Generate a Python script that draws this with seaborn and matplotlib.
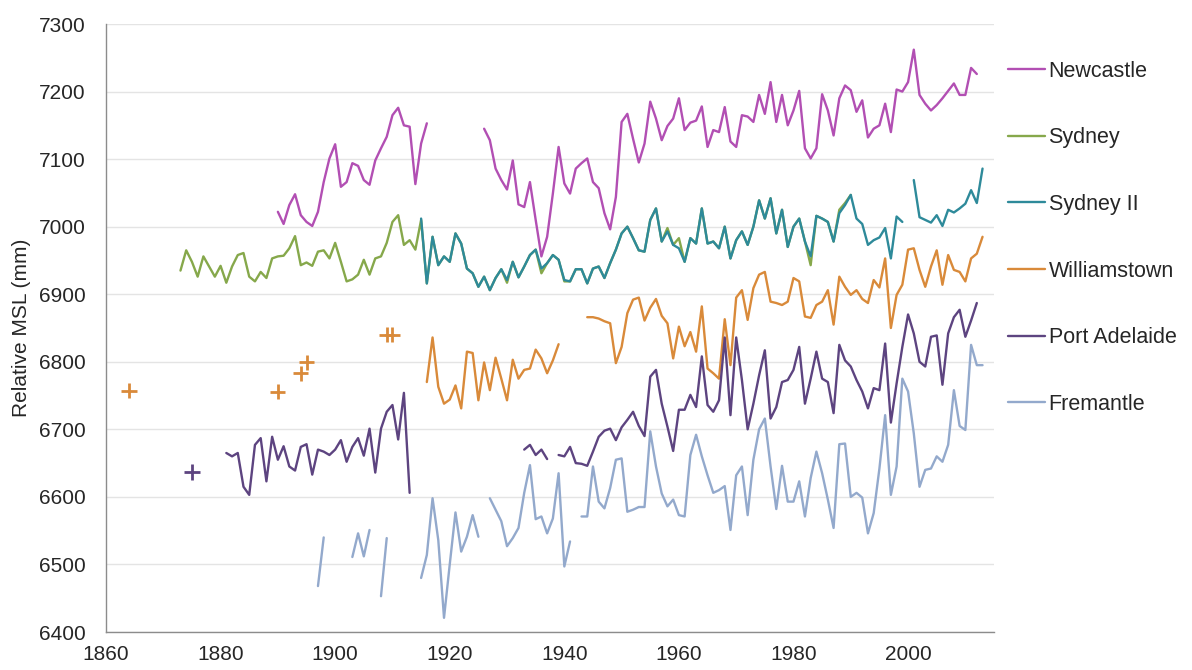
import numpy as np
import pandas as pd
import matplotlib
matplotlib.use("Agg")
import matplotlib.pyplot as plt
from matplotlib.lines import Line2D
import seaborn as sns

nan = np.nan

sites = ["Newcastle", "Sydney", "Sydney II", "Williamstown", "Port Adelaide", "Fremantle"]
colors = ["#B24FB3", "#86A84B", "#2E8A9A", "#D98A3A", "#5D4480", "#93A9CC"]

# Annual mean sea level (mm), one value per year from the start year; NaN = missing year
newcastle_start = 1890
newcastle_mm = [
    7022, 7004, 7032, 7048, 7017, 7007, 7001, 7022, 7066, 7101,
    7122, 7059, 7066, 7094, 7090, 7069, 7062, 7098, 7116, 7133,
    7165, 7176, 7150, 7148, 7063, 7123, 7153, nan, nan, nan,
    nan, nan, nan, nan, nan, nan, 7145, 7128, 7086, 7069,
    7055, 7098, 7033, 7029, 7066, 7010, 6956, 6985, 7049, 7118,
    7064, 7049, 7086, 7094, 7101, 7066, 7057, 7020, 6996, 7044,
    7155, 7167, 7130, 7095, 7123, 7185, 7160, 7128, 7149, 7160,
    7190, 7143, 7154, 7157, 7178, 7118, 7143, 7140, 7177, 7126,
    7118, 7165, 7163, 7155, 7195, 7167, 7214, 7155, 7195, 7150,
    7172, 7201, 7116, 7101, 7116, 7196, 7172, 7135, 7190, 7209,
    7202, 7170, 7187, 7132, 7145, 7150, 7182, 7140, 7203, 7200,
    7214, 7262, 7195, 7182, 7172, 7180, 7190, 7201, 7212, 7195,
    7195, 7235, 7226,
]

sydney_start = 1873
sydney_mm = [
    6935, 6965, 6948, 6926, 6956, 6941, 6926,
    6942, 6917, 6941, 6958, 6961, 6926, 6919, 6933, 6924, 6953,
    6956, 6957, 6968, 6986, 6943, 6947, 6942, 6963, 6965, 6953,
    6976, 6948, 6919, 6922, 6929, 6951, 6929, 6953, 6956, 6976,
    7007, 7017, 6973, 6980, 6966, 7010, 6916, 6985, 6943, 6956,
    6948, 6990, 6975, 6938, 6931, 6911, 6926, 6906, 6924, 6937,
    6917, 6948, 6925, 6941, 6958, 6966, 6931, 6946, 6958, 6951,
    6919, 6919, 6937, 6937, 6916, 6938, 6941, 6924, 6946, 6966,
    6990, 7000, 6983, 6965, 6963, 7010, 7027, 6978, 6998, 6973,
    6983, 6948, 6983, 6975, 7027, 6975, 6978, 6968, 7000, 6953,
    6980, 6993, 6973, 7000, 7039, 7012, 7042, 6990, 7025, 6970,
    7000, 7012, 6978, 6943, 7016, 7012, 7007, 6978, 7025, 7035,
    7047,
]

sydney2_start = 1915
sydney2_mm = [
    7012, 6916, 6985, 6943, 6956,
    6948, 6990, 6975, 6938, 6931, 6911, 6926, 6906, 6924, 6937,
    6921, 6948, 6925, 6941, 6958, 6966, 6938, 6946, 6958, 6951,
    6921, 6919, 6937, 6937, 6916, 6938, 6941, 6924, 6946, 6966,
    6990, 7000, 6983, 6965, 6963, 7010, 7027, 6978, 6993, 6973,
    6968, 6948, 6983, 6975, 7027, 6975, 6978, 6968, 7000, 6953,
    6980, 6993, 6973, 7000, 7039, 7012, 7042, 6990, 7025, 6970,
    7000, 7012, 6978, 6956, 7016, 7012, 7007, 6978, 7020, 7032,
    7047, 7012, 7004, 6973, 6980, 6984, 6998, 6953, 7015, 7007,
    nan, 7069, 7014, 7010, 7006, 7017, 7001, 7025, 7021, 7027,
    7034, 7054, 7035, 7086,
]

williamstown_start = 1916
williamstown_mm = [
    6770, 6836, 6763, 6738,
    6744, 6765, 6731, 6815, 6813, 6743, 6799, 6758, 6806, 6775,
    6743, 6803, 6775, 6788, 6790, 6818, 6805, 6783, 6802, 6826,
    nan, nan, nan, nan, 6866, 6866, 6864, 6860, 6857, 6798,
    6822, 6872, 6892, 6895, 6861, 6880, 6893, 6868, 6857, 6805,
    6852, 6823, 6844, 6815, 6882, 6790, 6783, 6775, 6863, 6795,
    6895, 6906, 6862, 6909, 6929, 6933, 6889, 6887, 6884, 6889,
    6924, 6919, 6867, 6865, 6884, 6889, 6906, 6855, 6926, 6911,
    6899, 6906, 6893, 6887, 6921, 6910, 6953, 6850, 6899, 6914,
    6966, 6968, 6936, 6911, 6941, 6965, 6914, 6958, 6936, 6933,
    6919, 6953, 6960, 6985,
]
# Isolated early Williamstown readings
williamstown_early_years = [1864, 1890, 1894, 1895, 1909, 1910]
williamstown_early_mm = [6757, 6756, 6783, 6799, 6840, 6840]

port_adelaide_start = 1881
port_adelaide_mm = [
    6665, 6660, 6665, 6615, 6603, 6677, 6687, 6623, 6689,
    6655, 6675, 6645, 6639, 6674, 6678, 6633, 6670, 6667, 6662,
    6670, 6684, 6652, 6674, 6687, 6661, 6701, 6636, 6701, 6726,
    6736, 6685, 6754, 6606, nan, nan, nan, nan, nan, nan,
    nan, nan, nan, nan, nan, nan, nan, nan, nan, nan,
    nan, nan, nan, 6670, 6677, 6662, 6670, 6656, nan, 6662,
    6660, 6674, 6650, 6649, 6646, 6667, 6689, 6698, 6701, 6684,
    6703, 6714, 6726, 6705, 6690, 6778, 6788, 6738, 6704, 6668,
    6729, 6729, 6751, 6733, 6808, 6736, 6726, 6743, 6836, 6721,
    6836, 6773, 6700, 6738, 6780, 6817, 6716, 6733, 6770, 6773,
    6788, 6822, 6738, 6775, 6815, 6775, 6770, 6724, 6825, 6802,
    6793, 6773, 6756, 6731, 6761, 6758, 6827, 6710, 6768, 6822,
    6870, 6842, 6800, 6793, 6837, 6839, 6766, 6842, 6866, 6877,
    6837, 6861, 6887,
]
port_adelaide_early_years = [1875]
port_adelaide_early_mm = [6637]

fremantle_start = 1897
fremantle_mm = [
    6468, 6540, nan,
    nan, nan, nan, 6511, 6546, 6512, 6551, nan, 6453, 6539,
    nan, nan, nan, nan, nan, 6480, 6514, 6598, 6536, 6421,
    6500, 6577, 6519, 6541, 6573, 6541, nan, 6598, 6581, 6564,
    6527, 6539, 6554, 6606, 6647, 6567, 6571, 6546, 6568, 6635,
    6497, 6534, nan, 6571, 6571, 6645, 6593, 6583, 6613, 6655,
    6657, 6578, 6581, 6585, 6585, 6697, 6645, 6605, 6586, 6596,
    6573, 6571, 6662, 6692, 6660, 6632, 6606, 6610, 6616, 6551,
    6632, 6645, 6573, 6655, 6700, 6716, 6645, 6582, 6646, 6593,
    6593, 6623, 6571, 6628, 6667, 6635, 6596, 6554, 6678, 6679,
    6600, 6606, 6599, 6546, 6576, 6642, 6721, 6603, 6645, 6775,
    6756, 6694, 6615, 6640, 6642, 6660, 6652, 6677, 6758, 6705,
    6699, 6825, 6795, 6795,
]

series = [
    ("Newcastle", newcastle_start, newcastle_mm),
    ("Sydney", sydney_start, sydney_mm),
    ("Sydney II", sydney2_start, sydney2_mm),
    ("Williamstown", williamstown_start, williamstown_mm),
    ("Port Adelaide", port_adelaide_start, port_adelaide_mm),
    ("Fremantle", fremantle_start, fremantle_mm),
]

# Long-form table; each unbroken run of years gets its own segment id so gaps stay open
rows = []
seg = 0
for site, start, vals in series:
    seg += 1
    for i, v in enumerate(vals):
        if np.isnan(v):
            seg += 1
            continue
        rows.append({"site": site, "year": start + i, "mm": v, "segment": seg})
lines_df = pd.DataFrame(rows)

points_df = pd.DataFrame({
    "site": ["Williamstown"] * len(williamstown_early_years) + ["Port Adelaide"] * len(port_adelaide_early_years),
    "year": williamstown_early_years + port_adelaide_early_years,
    "mm": williamstown_early_mm + port_adelaide_early_mm,
})

palette = dict(zip(sites, colors))

sns.set_theme(style="white")
plt.rcParams["font.family"] = ["Liberation Sans", "DejaVu Sans"]

fig = plt.figure(figsize=(11.92, 6.70), dpi=100)
ax = fig.add_axes([106 / 1192, 1 - 632 / 670, (994 - 106) / 1192, (632 - 24) / 670])

sns.lineplot(data=lines_df, x="year", y="mm", hue="site", hue_order=sites,
             units="segment", estimator=None, palette=palette, linewidth=1.7,
             legend=False, ax=ax, zorder=3)
sns.scatterplot(data=points_df, x="year", y="mm", hue="site", palette=palette,
                marker="+", s=120, linewidth=2.0, legend=False, ax=ax, zorder=4)

ax.set_xlim(1860, 2015)
ax.set_ylim(6400, 7300)
ax.set_xticks(np.arange(1860, 2001, 20))
ax.set_yticks(np.arange(6400, 7301, 100))
ax.grid(axis="y", color="#e4e4e4", linewidth=1.0)
ax.set_axisbelow(True)
for s in ["top", "right"]:
    ax.spines[s].set_visible(False)
for s in ["left", "bottom"]:
    ax.spines[s].set_color("#8c8c8c")
    ax.spines[s].set_linewidth(1.0)
ax.tick_params(axis="y", direction="out", length=4.5, width=1.0, color="#8c8c8c",
               labelsize=15, labelcolor="#262626", pad=10)
ax.tick_params(axis="x", direction="inout", length=8, width=1.0, color="#8c8c8c",
               labelsize=15, labelcolor="#262626", pad=5)
ax.set_xlabel("")
ax.set_ylabel("Relative MSL (mm)", fontsize=15, color="#262626", labelpad=6)

handles = [Line2D([0], [0], color=c, linewidth=1.7) for c in colors]
fig.legend(handles, sites, loc="upper left", bbox_to_anchor=(999 / 1192, 1 - 52 / 670),
           frameon=False, fontsize=15.5, handlelength=1.72, handletextpad=0.18,
           labelspacing=2.12, borderaxespad=0)
for t in fig.legends[0].get_texts():
    t.set_color("#262626")

fig.savefig("out.png", dpi=100)
